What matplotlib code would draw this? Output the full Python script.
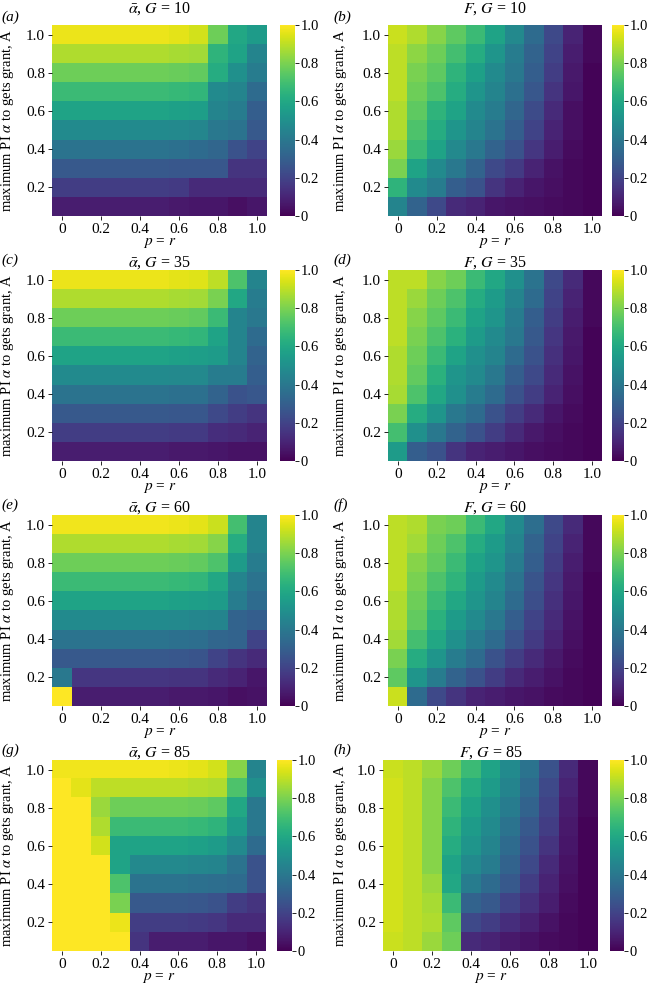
import matplotlib
matplotlib.use('Agg')
import matplotlib.pyplot as plt
import numpy as np

plt.rcParams['font.family'] = ['Liberation Serif', 'DejaVu Serif']
plt.rcParams['mathtext.fontset'] = 'stix'
plt.rcParams['font.size'] = 10.5

# p = r on the x axis, A on the y axis (rows listed top A=1.0 -> bottom A=0.1)
p_vals = [0, 0.1, 0.2, 0.3, 0.4, 0.5, 0.6, 0.7, 0.8, 0.9, 1.0]
A_vals = [1.0, 0.9, 0.8, 0.7, 0.6, 0.5, 0.4, 0.3, 0.2, 0.1]
x_ticks = [0, 0.2, 0.4, 0.6, 0.8, 1.0]
x_ticklabels = ['0', '0.2', '0.4', '0.6', '0.8', '1.0']
y_ticks = [0.2, 0.4, 0.6, 0.8, 1.0]
y_ticklabels = ['0.2', '0.4', '0.6', '0.8', '1.0']
cbar_ticks = [0, 0.2, 0.4, 0.6, 0.8, 1.0]
cbar_ticklabels = ['0', '0.2', '0.4', '0.6', '0.8', '1.0']
G_vals = [10, 35, 60, 85]

alpha_G10 = [
    [0.97, 0.97, 0.97, 0.97, 0.97, 0.97, 0.96, 0.93, 0.78, 0.60, 0.55],
    [0.88, 0.88, 0.88, 0.88, 0.88, 0.88, 0.87, 0.86, 0.65, 0.58, 0.45],
    [0.78, 0.78, 0.78, 0.78, 0.78, 0.78, 0.77, 0.76, 0.62, 0.50, 0.42],
    [0.68, 0.68, 0.68, 0.68, 0.68, 0.68, 0.67, 0.66, 0.48, 0.45, 0.35],
    [0.58, 0.58, 0.58, 0.58, 0.58, 0.58, 0.57, 0.56, 0.45, 0.42, 0.30],
    [0.48, 0.48, 0.48, 0.48, 0.48, 0.48, 0.47, 0.46, 0.40, 0.38, 0.28],
    [0.38, 0.38, 0.38, 0.38, 0.38, 0.38, 0.37, 0.35, 0.33, 0.25, 0.20],
    [0.28, 0.28, 0.28, 0.28, 0.28, 0.28, 0.27, 0.27, 0.27, 0.15, 0.15],
    [0.18, 0.18, 0.18, 0.18, 0.18, 0.18, 0.17, 0.12, 0.12, 0.12, 0.12],
    [0.08, 0.08, 0.08, 0.08, 0.08, 0.08, 0.07, 0.06, 0.06, 0.04, 0.06],
]
F_G10 = [
    [0.92, 0.88, 0.82, 0.75, 0.68, 0.58, 0.47, 0.35, 0.22, 0.10, 0.02],
    [0.90, 0.83, 0.78, 0.70, 0.62, 0.52, 0.42, 0.32, 0.20, 0.08, 0.02],
    [0.90, 0.80, 0.75, 0.65, 0.57, 0.48, 0.40, 0.30, 0.18, 0.07, 0.01],
    [0.90, 0.78, 0.72, 0.62, 0.52, 0.45, 0.37, 0.27, 0.15, 0.06, 0.01],
    [0.88, 0.75, 0.65, 0.58, 0.48, 0.42, 0.33, 0.23, 0.12, 0.04, 0.01],
    [0.88, 0.72, 0.62, 0.52, 0.45, 0.38, 0.30, 0.20, 0.10, 0.04, 0.01],
    [0.85, 0.68, 0.58, 0.47, 0.40, 0.32, 0.25, 0.16, 0.08, 0.03, 0.01],
    [0.80, 0.58, 0.48, 0.40, 0.32, 0.22, 0.17, 0.10, 0.05, 0.02, 0.01],
    [0.65, 0.48, 0.42, 0.30, 0.25, 0.15, 0.10, 0.06, 0.04, 0.02, 0.01],
    [0.45, 0.32, 0.22, 0.12, 0.10, 0.06, 0.05, 0.04, 0.03, 0.02, 0.01],
]
alpha_G35 = [
    [0.97, 0.97, 0.97, 0.97, 0.97, 0.97, 0.96, 0.95, 0.90, 0.72, 0.45],
    [0.88, 0.88, 0.88, 0.88, 0.88, 0.88, 0.87, 0.86, 0.80, 0.60, 0.42],
    [0.78, 0.78, 0.78, 0.78, 0.78, 0.78, 0.77, 0.76, 0.68, 0.45, 0.40],
    [0.68, 0.68, 0.68, 0.68, 0.68, 0.68, 0.67, 0.66, 0.58, 0.45, 0.35],
    [0.58, 0.58, 0.58, 0.58, 0.58, 0.58, 0.57, 0.56, 0.55, 0.45, 0.32],
    [0.48, 0.48, 0.48, 0.48, 0.48, 0.48, 0.47, 0.47, 0.42, 0.42, 0.30],
    [0.38, 0.38, 0.38, 0.38, 0.38, 0.38, 0.37, 0.37, 0.32, 0.25, 0.27],
    [0.28, 0.28, 0.28, 0.28, 0.28, 0.28, 0.27, 0.27, 0.22, 0.18, 0.15],
    [0.18, 0.18, 0.18, 0.18, 0.18, 0.18, 0.17, 0.17, 0.13, 0.12, 0.10],
    [0.08, 0.08, 0.08, 0.08, 0.08, 0.08, 0.07, 0.07, 0.06, 0.05, 0.05],
]
F_G35 = [
    [0.90, 0.90, 0.82, 0.78, 0.68, 0.60, 0.50, 0.38, 0.22, 0.12, 0.02],
    [0.90, 0.85, 0.78, 0.72, 0.62, 0.55, 0.45, 0.35, 0.20, 0.10, 0.02],
    [0.90, 0.82, 0.75, 0.68, 0.58, 0.52, 0.42, 0.30, 0.18, 0.08, 0.02],
    [0.90, 0.80, 0.72, 0.64, 0.55, 0.48, 0.40, 0.28, 0.16, 0.07, 0.01],
    [0.88, 0.78, 0.68, 0.58, 0.50, 0.45, 0.35, 0.25, 0.14, 0.06, 0.01],
    [0.88, 0.76, 0.64, 0.52, 0.48, 0.40, 0.30, 0.22, 0.12, 0.05, 0.01],
    [0.87, 0.72, 0.60, 0.50, 0.42, 0.35, 0.25, 0.18, 0.10, 0.04, 0.01],
    [0.80, 0.62, 0.52, 0.40, 0.35, 0.25, 0.18, 0.12, 0.06, 0.03, 0.01],
    [0.70, 0.50, 0.40, 0.32, 0.25, 0.18, 0.12, 0.07, 0.04, 0.02, 0.01],
    [0.55, 0.30, 0.25, 0.15, 0.10, 0.08, 0.06, 0.04, 0.03, 0.02, 0.01],
]
alpha_G60 = [
    [0.98, 0.98, 0.98, 0.98, 0.98, 0.98, 0.97, 0.96, 0.92, 0.70, 0.45],
    [0.88, 0.88, 0.88, 0.88, 0.88, 0.88, 0.87, 0.86, 0.82, 0.62, 0.45],
    [0.78, 0.78, 0.78, 0.78, 0.78, 0.78, 0.77, 0.76, 0.72, 0.55, 0.42],
    [0.68, 0.68, 0.68, 0.68, 0.68, 0.68, 0.67, 0.66, 0.60, 0.45, 0.38],
    [0.58, 0.58, 0.58, 0.58, 0.58, 0.58, 0.57, 0.56, 0.55, 0.42, 0.35],
    [0.48, 0.48, 0.48, 0.48, 0.48, 0.48, 0.47, 0.46, 0.45, 0.32, 0.30],
    [0.38, 0.38, 0.38, 0.38, 0.38, 0.38, 0.37, 0.36, 0.33, 0.32, 0.20],
    [0.28, 0.28, 0.28, 0.28, 0.28, 0.28, 0.27, 0.26, 0.20, 0.15, 0.12],
    [0.40, 0.16, 0.16, 0.16, 0.16, 0.16, 0.15, 0.15, 0.12, 0.10, 0.06],
    [1.00, 0.08, 0.08, 0.08, 0.08, 0.08, 0.07, 0.07, 0.06, 0.04, 0.05],
]
F_G60 = [
    [0.90, 0.88, 0.80, 0.78, 0.68, 0.60, 0.48, 0.36, 0.22, 0.12, 0.02],
    [0.90, 0.86, 0.78, 0.72, 0.62, 0.55, 0.45, 0.32, 0.20, 0.10, 0.02],
    [0.90, 0.82, 0.76, 0.68, 0.58, 0.52, 0.42, 0.30, 0.18, 0.08, 0.02],
    [0.90, 0.80, 0.72, 0.65, 0.55, 0.48, 0.38, 0.26, 0.16, 0.07, 0.01],
    [0.88, 0.78, 0.68, 0.60, 0.52, 0.45, 0.35, 0.24, 0.14, 0.06, 0.01],
    [0.88, 0.76, 0.64, 0.55, 0.48, 0.40, 0.30, 0.20, 0.12, 0.05, 0.01],
    [0.86, 0.70, 0.60, 0.50, 0.42, 0.35, 0.25, 0.17, 0.10, 0.04, 0.01],
    [0.80, 0.62, 0.52, 0.42, 0.35, 0.25, 0.18, 0.12, 0.07, 0.03, 0.01],
    [0.75, 0.52, 0.42, 0.32, 0.25, 0.18, 0.12, 0.08, 0.05, 0.02, 0.01],
    [0.92, 0.35, 0.22, 0.15, 0.10, 0.08, 0.06, 0.05, 0.03, 0.02, 0.01],
]
alpha_G85 = [
    [0.98, 0.98, 0.98, 0.98, 0.98, 0.98, 0.97, 0.96, 0.93, 0.82, 0.45],
    [1.00, 0.96, 0.90, 0.90, 0.90, 0.90, 0.90, 0.89, 0.88, 0.72, 0.50],
    [1.00, 1.00, 0.85, 0.78, 0.78, 0.78, 0.78, 0.77, 0.75, 0.60, 0.40],
    [1.00, 1.00, 0.88, 0.68, 0.68, 0.68, 0.68, 0.67, 0.65, 0.55, 0.40],
    [1.00, 1.00, 0.93, 0.58, 0.58, 0.58, 0.58, 0.57, 0.55, 0.48, 0.35],
    [1.00, 1.00, 1.00, 0.58, 0.47, 0.47, 0.47, 0.46, 0.45, 0.38, 0.25],
    [1.00, 1.00, 1.00, 0.72, 0.38, 0.38, 0.38, 0.37, 0.36, 0.35, 0.25],
    [1.00, 1.00, 1.00, 0.80, 0.28, 0.28, 0.28, 0.27, 0.25, 0.18, 0.15],
    [1.00, 1.00, 1.00, 0.97, 0.18, 0.18, 0.18, 0.17, 0.16, 0.12, 0.12],
    [1.00, 1.00, 1.00, 1.00, 0.15, 0.08, 0.08, 0.08, 0.06, 0.06, 0.04],
]
F_G85 = [
    [0.92, 0.90, 0.85, 0.78, 0.68, 0.58, 0.48, 0.38, 0.25, 0.12, 0.02],
    [0.93, 0.90, 0.82, 0.72, 0.62, 0.55, 0.45, 0.35, 0.22, 0.10, 0.02],
    [0.93, 0.90, 0.82, 0.68, 0.58, 0.50, 0.42, 0.32, 0.20, 0.08, 0.02],
    [0.93, 0.90, 0.82, 0.65, 0.55, 0.48, 0.38, 0.28, 0.18, 0.07, 0.01],
    [0.93, 0.90, 0.82, 0.62, 0.52, 0.45, 0.35, 0.25, 0.15, 0.06, 0.01],
    [0.93, 0.90, 0.82, 0.58, 0.48, 0.42, 0.32, 0.22, 0.12, 0.05, 0.01],
    [0.93, 0.90, 0.85, 0.60, 0.42, 0.35, 0.28, 0.18, 0.10, 0.04, 0.01],
    [0.93, 0.90, 0.87, 0.68, 0.32, 0.28, 0.20, 0.14, 0.08, 0.03, 0.01],
    [0.93, 0.90, 0.88, 0.75, 0.22, 0.18, 0.13, 0.09, 0.05, 0.02, 0.01],
    [0.92, 0.90, 0.85, 0.78, 0.12, 0.10, 0.07, 0.05, 0.03, 0.02, 0.01],
]

alpha_list = [alpha_G10, alpha_G35, alpha_G60, alpha_G85]
F_list = [F_G10, F_G35, F_G60, F_G85]
panel_letters = ['a', 'b', 'c', 'd', 'e', 'f', 'g', 'h']

W, H = 649, 985
fig = plt.figure(figsize=(W / 100, H / 100), dpi=100)

def px_axes(x0, y0, x1, y1):
    # pixel box (top-left origin) -> figure fraction axes
    return fig.add_axes([x0 / W, 1 - y1 / H, (x1 - x0) / W, (y1 - y0) / H])

dx = p_vals[1] - p_vals[0]
dy = A_vals[0] - A_vals[1]
extent = [p_vals[0] - dx / 2, p_vals[-1] + dx / 2, A_vals[-1] - dy / 2, A_vals[0] + dy / 2]

# column geometry in pixels: heatmap left/right, colorbar left/right, ylabel right edge
cols = [
    dict(hx0=52, hx1=267, cx0=280, cx1=295, ylab=16, lab_x=1),
    dict(hx0=388, hx1=602, cx0=612, cx1=624, ylab=349, lab_x=333),
]
row_top = [25, 270, 515, 760]
row_h = 191
title_y = [9, 263, 508, 753]
label_y = [17, 260, 505, 750]

for r in range(4):
    for c in range(2):
        data = np.array(alpha_list[r] if c == 0 else F_list[r])
        g = cols[c]
        if r == 3:
            g = dict(g)
            if c == 0:
                g.update(hx0=52, hx1=266, cx0=277, cx1=292)
            else:
                g.update(hx0=383, hx1=598, cx0=610, cx1=624)
        y0 = row_top[r]
        y1 = y0 + row_h
        ax = px_axes(g['hx0'], y0, g['hx1'], y1)
        im = ax.imshow(data, cmap='viridis', vmin=0, vmax=1, extent=extent,
                       origin='upper', aspect='auto', interpolation='nearest')
        for s in ax.spines.values():
            s.set_visible(False)
        ax.set_xticks(x_ticks)
        ax.set_xticklabels(x_ticklabels)
        ax.set_yticks(y_ticks)
        ax.set_yticklabels(y_ticklabels)
        ax.tick_params(length=3, width=0.6, pad=2, labelsize=11)
        ax.set_xlabel('$p$ = $r$', fontsize=11)
        ax.xaxis.set_label_coords(0.5, -0.105)
        ax.set_ylabel(r'maximum PI $\alpha$ to gets grant, A', fontsize=10.5)
        ax.yaxis.set_label_coords((g['ylab'] - g['hx0']) / (g['hx1'] - g['hx0']), 0.5)

        cax = px_axes(g['cx0'], y0, g['cx1'], y1)
        cb = fig.colorbar(im, cax=cax)
        cb.outline.set_visible(False)
        cb.set_ticks(cbar_ticks)
        cb.set_ticklabels(cbar_ticklabels)
        cb.ax.tick_params(length=3, width=0.6, pad=1, labelsize=10.5)

        name = r'$\bar{\alpha}$' if c == 0 else '$F$'
        xc = (g['hx0'] + g['hx1']) / 2
        fig.text(xc / W, 1 - title_y[r] / H, name + ', $G$ = ' + str(G_vals[r]),
                 ha='center', va='center', fontsize=11.5)
        fig.text(g['lab_x'] / W, 1 - label_y[r] / H, '(' + panel_letters[2 * r + c] + ')',
                 ha='left', va='center', fontsize=11, style='italic')

fig.savefig('out.png', dpi=100)
